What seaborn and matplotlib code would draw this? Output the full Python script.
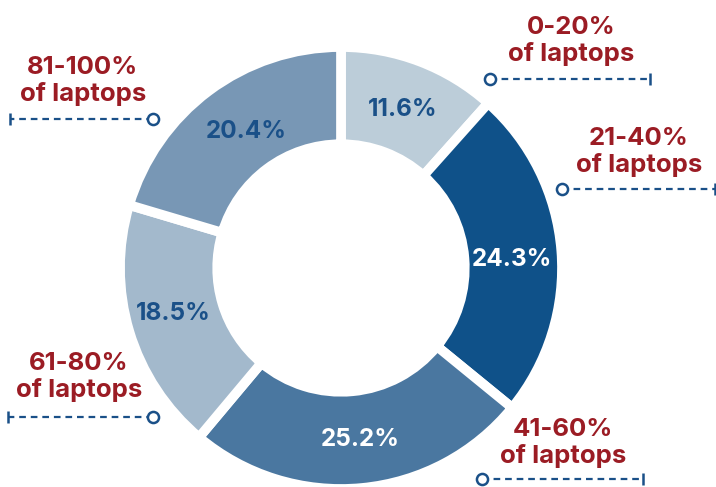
import matplotlib
matplotlib.use("Agg")
import matplotlib.pyplot as plt
import seaborn as sns

# Data
categories = ["0-20%\nof laptops", "21-40%\nof laptops", "41-60%\nof laptops",
              "61-80%\nof laptops", "81-100%\nof laptops"]
values = [11.6, 24.3, 25.2, 18.5, 20.4]
pct_labels = ["11.6%", "24.3%", "25.2%", "18.5%", "20.4%"]

slice_colors = ["#bccdd9", "#0f5189", "#4a77a0", "#a3b9cc", "#7897b5"]
pct_colors = ["#1a5088", "white", "white", "#1a5088", "#1a5088"]
label_red = "#9b1c24"
line_blue = "#1a5088"

sns.set_theme(style="white")
plt.rcParams["font.family"] = ["Inter", "DejaVu Sans"]

W, H = 716, 487
fig = plt.figure(figsize=(W / 100, H / 100), dpi=100)
ax = fig.add_axes([0, 0, 1, 1])

cx, cy, R = 341, H - 268, 221
palette = sns.color_palette(slice_colors)
wedges, _ = ax.pie(values, colors=palette, startangle=90, counterclock=False,
                   center=(cx, cy), radius=R, frame=True,
                   wedgeprops=dict(width=R * 0.44, edgecolor="white", linewidth=7))
ax.set_xlim(0, W)
ax.set_ylim(0, H)
ax.set_aspect("equal")
ax.axis("off")

# percentage labels (pixel positions, y from top)
pct_pos = [(403, 110), (512, 259), (360, 439), (173, 313), (246, 131)]
for (px, py), t, c in zip(pct_pos, pct_labels, pct_colors):
    ax.text(px, H - py, t, ha="center", va="center", fontsize=17.5,
            fontweight="bold", color=c)

# category labels with callout lines
lab_pos = [(571, 41), (639, 152), (563, 443), (79, 377), (83, 81)]
line_spec = [  # (y, circle_x, tick_x)
    (79, 490, 650), (189, 562, 715), (479, 482, 643), (417, 153, 8), (119, 153, 10)]
for (px, py), t, (ly, cxp, tx) in zip(lab_pos, categories, line_spec):
    ax.text(px, H - py, t, ha="center", va="center", fontsize=18.5,
            fontweight="bold", color=label_red, linespacing=1.15)
    ax.plot([cxp, tx], [H - ly, H - ly], ls=(0, (3, 2.2)), color=line_blue,
            lw=1.6, clip_on=False)
    ax.plot([tx], [H - ly], marker="|", ms=9, mew=1.8, color=line_blue, clip_on=False)
    ax.plot([cxp], [H - ly], marker="o", ms=8, mew=1.8, mfc="white",
            mec=line_blue, clip_on=False)

fig.savefig("out.png", dpi=100)
